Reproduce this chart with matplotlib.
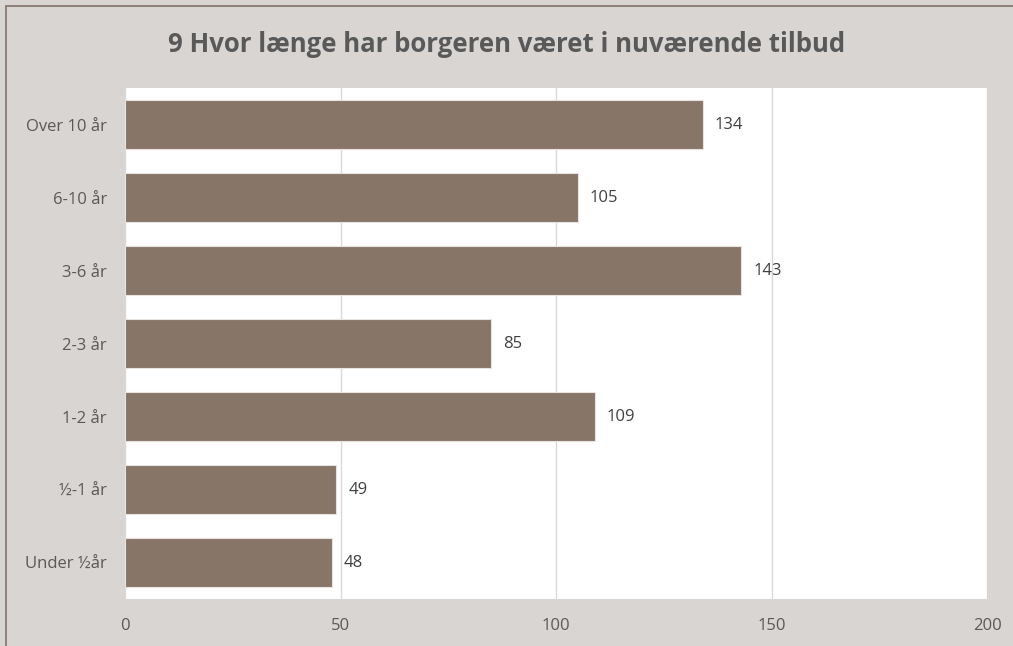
import matplotlib.pyplot as plt
from matplotlib.patches import Rectangle

categories = ["Over 10 år", "6-10 år", "3-6 år", "2-3 år", "1-2 år", "½-1 år", "Under ½år"]
values = [134, 105, 143, 85, 109, 49, 48]
xticks = [0, 50, 100, 150, 200]

BG = "#d9d5d2"
BAR = "#877568"
TXT = "#595959"

plt.rcParams["font.family"] = ["Open Sans", "DejaVu Sans"]

W, H = 1013, 646
fig = plt.figure(figsize=(W / 100, H / 100), dpi=100)
fig.patch.set_facecolor(BG)

# outer frame (cut off at right and bottom)
fig.patches.append(Rectangle((6 / W, -0.1), 1.2, (H - 6) / H + 0.1,
                             transform=fig.transFigure, fill=False,
                             ec="#8a7a70", lw=1.3))

ax = fig.add_axes([125 / W, 1 - 599 / H, (987 - 125) / W, (599 - 88) / H])
ax.set_facecolor("white")

y = list(range(len(categories)))
ax.barh(y, values, height=0.66, color=BAR, edgecolor="#e8e2de", lw=0.8, zorder=3)
for yi, v in zip(y, values):
    ax.text(v + 2.8, yi, str(v), va="center", ha="left", fontsize=12, color="#404040")

ax.set_xlim(0, 200)
ax.set_ylim(len(categories) - 0.5, -0.5)
ax.set_yticks(y)
ax.set_yticklabels(categories, fontsize=12, color=TXT)
ax.set_xticks(xticks)
ax.set_xticklabels([str(t) for t in xticks], fontsize=12, color=TXT)
ax.tick_params(length=0)
ax.tick_params(axis="y", pad=13)
ax.tick_params(axis="x", pad=14)
ax.grid(axis="x", color="#d9d9d9", lw=1, zorder=0)
for s in ax.spines.values():
    s.set_visible(False)

fig.text(0.5, 1 - 45 / H, "9 Hvor længe har borgeren været i nuværende tilbud",
         ha="center", va="center", fontsize=18.5, fontweight="bold", color=TXT)

fig.savefig("out.png", dpi=100, facecolor=BG)
